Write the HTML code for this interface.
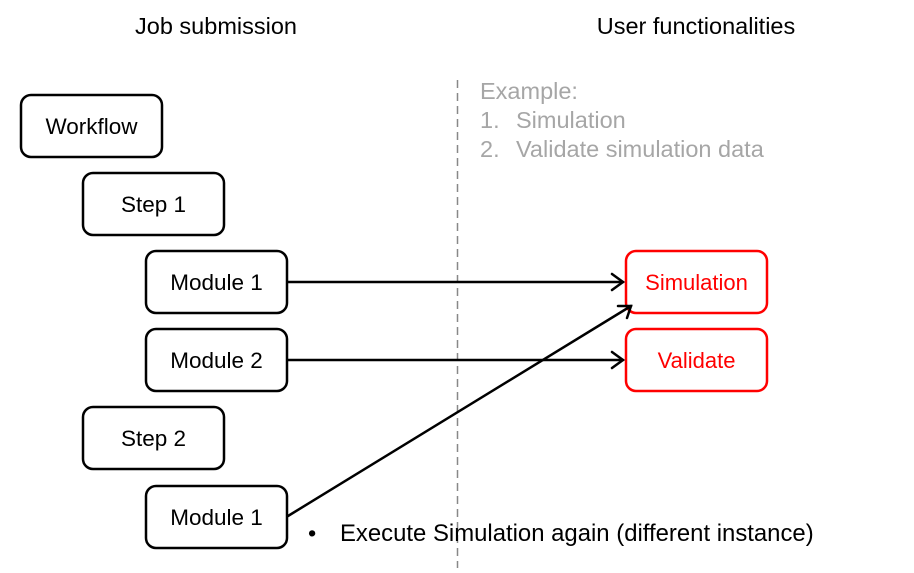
<!DOCTYPE html>
<html><head><style>
html,body{margin:0;padding:0;background:#fff;}
svg text{font-family:"Liberation Sans",sans-serif;}
</style></head><body>
<svg width="914" height="568" viewBox="0 0 914 568" xmlns="http://www.w3.org/2000/svg">
<text x="216" y="34" font-size="23.5" text-anchor="middle" fill="#000">Job submission</text>
<text x="696" y="34" font-size="23.5" text-anchor="middle" fill="#000">User functionalities</text>
<line x1="457.5" y1="80" x2="457.5" y2="568" stroke="#888" stroke-width="1.5" stroke-dasharray="8,5"/>
<g font-size="23.5" fill="#a6a6a6">
<text x="480" y="99">Example:</text>
<text x="480" y="128">1.</text><text x="516" y="128">Simulation</text>
<text x="480" y="157">2.</text><text x="516" y="157">Validate simulation data</text>
</g>
<g fill="#fff" stroke="#000" stroke-width="2.5">
<rect x="21" y="95" width="141" height="62" rx="10"/>
<rect x="83" y="173" width="141" height="62" rx="10"/>
<rect x="146" y="251" width="141" height="62" rx="10"/>
<rect x="146" y="329" width="141" height="62" rx="10"/>
<rect x="83" y="407" width="141" height="62" rx="10"/>
<rect x="146" y="486" width="141" height="62" rx="10"/>
</g>
<g fill="#fff" stroke="#f00" stroke-width="2.5">
<rect x="626" y="251" width="141" height="62" rx="10"/>
<rect x="626" y="329" width="141" height="62" rx="10"/>
</g>
<g font-size="22.5" text-anchor="middle" fill="#000">
<text x="91.5" y="134">Workflow</text>
<text x="153.5" y="212">Step 1</text>
<text x="216.5" y="290">Module 1</text>
<text x="216.5" y="368">Module 2</text>
<text x="153.5" y="446">Step 2</text>
<text x="216.5" y="525">Module 1</text>
</g>
<g font-size="22" text-anchor="middle" fill="#f00">
<text x="696.5" y="290">Simulation</text>
<text x="696.5" y="368">Validate</text>
</g>
<g stroke="#000" stroke-width="2.5" fill="none" stroke-linecap="round">
<line x1="288" y1="282" x2="623" y2="282"/>
<polyline points="612,274 623,282 612,290"/>
<line x1="288" y1="360" x2="623" y2="360"/>
<polyline points="612,352 623,360 612,368"/>
<line x1="288" y1="516" x2="631" y2="306"/>
<polyline points="618,306 631,306 627,318"/>
</g>
<text x="308" y="541" font-size="23.5" fill="#000">•</text>
<text x="340" y="541" font-size="23.9" fill="#000">Execute Simulation again (different instance)</text>
</svg>
</body></html>
